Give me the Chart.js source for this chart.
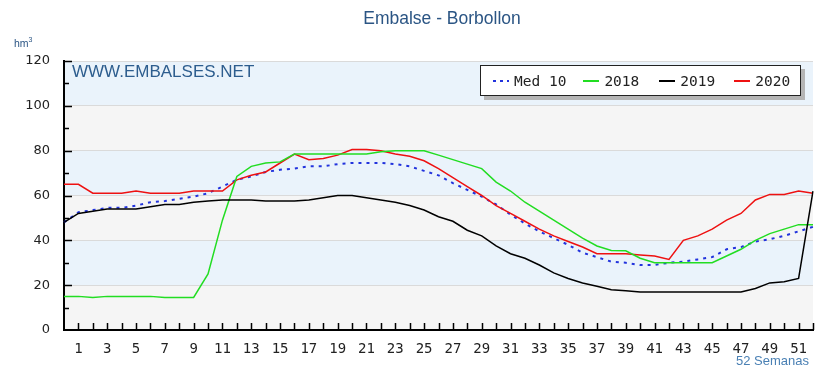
<!DOCTYPE html>
<html>
<head>
<meta charset="utf-8">
<script src="https://cdn.jsdelivr.net/npm/chart.js@4.4.1/dist/chart.umd.min.js"></script>
<style>
  body { margin: 0; background: #fff; }
  #wrap { position: relative; width: 825px; height: 379px; }
  .title { position: absolute; left: 0; width: 884px; top: 8px; text-align: center;
    font: 17.5px "Liberation Sans", Arial, sans-serif; color: #2b5584; }
  .unit { position: absolute; left: 14px; top: 36px; font: 10.5px "Liberation Sans", Arial, sans-serif; color: #2b5584; }
  .unit sup { font-size: 7px; }
  .weeks { position: absolute; left: 736px; top: 353px; font: 13px "Liberation Sans", Arial, sans-serif; color: #4a80b4; }
  .legend { position: absolute; left: 480px; top: 65px; width: 319px; height: 29px; background: #fff;
    border: 1.5px solid #222; box-shadow: 4px 4px 0 #b5b5b5; display: flex; align-items: center;
    font: 14.5px "DejaVu Sans Mono", monospace; color: #222; }
  .item { display: flex; align-items: center; margin-left: 12px; }
  .sw { width: 16px; height: 2px; margin-right: 5px; }
  .dots { width: 16px; height: 2px; margin-right: 5px;
    background: repeating-linear-gradient(90deg, #2233dd 0 3px, transparent 3px 7px); }
</style>
</head>
<body>
<div id="wrap">
  <canvas id="chart" width="825" height="379"></canvas>
  <div class="title">Embalse - Borbollon</div>
  <div class="unit">hm<sup>3</sup></div>
  <div class="weeks">52 Semanas</div>
  <div class="legend">
    <div class="item"><span class="dots"></span>Med 10</div>
    <div class="item" style="margin-left:17px"><span class="sw" style="background:#22dd22"></span>2018</div>
    <div class="item" style="margin-left:20px"><span class="sw" style="background:#000"></span>2019</div>
    <div class="item" style="margin-left:19px"><span class="sw" style="background:#ee1111"></span>2020</div>
  </div>
</div>
<script>
const weeks = ["0","1","2","3","4","5","6","7","8","9","10","11","12","13","14","15","16","17","18","19","20",
  "21","22","23","24","25","26","27","28","29","30","31","32","33","34","35","36","37","38","39","40",
  "41","42","43","44","45","46","47","48","49","50","51","52"];

const med10 = [48,52.5,53.5,54.5,54.5,55.5,57,57.5,58.5,59.5,61,64,67,68.5,70.5,71.5,72,73,73,74,74.5,
  74.5,74.5,74,73,71,69,65.5,62.5,59.5,56,51.5,47.5,44,41,38,34.5,32.5,30.5,30,29,
  29,30,30.5,31.5,32.5,36,37,39.5,40.5,42,44,46];
const y2018 = [15,15,14.5,15,15,15,15,14.5,14.5,14.5,25,49,68.5,73,74.5,75,78.5,78.5,78.5,78.5,78.5,
  78.5,79.5,80,80,80,78,76,74,72,66,62,57,53,49,45,41,37.5,35.5,35.3,32,
  30,30,30,30,30,33,36,40,43,45,47,47];
const y2019 = [48,52,53,54,54,54,55,56,56,57,57.5,58,58,58,57.5,57.5,57.5,58,59,60,60,
  59,58,57,55.5,53.5,50.5,48.5,44.5,42,37.5,34,32,29,25.5,23,21,19.5,18,17.5,17,
  17,17,17,17,17,17,17,18.5,21,21.5,23,62];
const y2020 = [65,65,61,61,61,62,61,61,61,62,62,62,67,69,70.5,74.5,78.5,76,76.5,78,80.5,
  80.5,80,78.5,77.5,75.5,72,68,64,60,55.5,52,48.5,45,42,39.5,37,34,34,34,33.5,
  33,31.5,40,42,45,49,52,58,60.5,60.5,62,61];

const yTicks = [0, 20, 40, 60, 80, 100, 120];

// alternating bands behind the plot
const bands = {
  id: "bands",
  beforeDraw(chart) {
    const { ctx, chartArea, scales } = chart;
    const y = scales.y;
    for (let i = 0; i < yTicks.length - 1; i++) {
      const top = y.getPixelForValue(yTicks[i + 1]);
      const bot = y.getPixelForValue(yTicks[i]);
      ctx.fillStyle = i % 2 === 0 ? "#f5f5f5" : "#eaf3fb";
      ctx.fillRect(chartArea.left, top, chartArea.right - chartArea.left, bot - top);
    }
    ctx.save();
    ctx.fillStyle = "#2d5d8e";
    ctx.font = "17px 'Liberation Sans', Arial, sans-serif";
    ctx.textBaseline = "top";
    ctx.fillText("WWW.EMBALSES.NET", chartArea.left + 8, chartArea.top + 3);
    ctx.restore();
  }
};

// tick marks pointing into the plot
const innerTicks = {
  id: "innerTicks",
  afterDraw(chart) {
    const { ctx, chartArea, scales } = chart;
    ctx.save();
    ctx.strokeStyle = "#000";
    ctx.lineWidth = 1.5;
    ctx.beginPath();
    for (let i = 1; i < weeks.length; i++) {
      const px = Math.round(scales.x.getPixelForValue(i)) + 0.5;
      ctx.moveTo(px, chartArea.bottom);
      ctx.lineTo(px, chartArea.bottom - 7);
    }
    for (let v = 10; v <= 120; v += 10) {
      const py = Math.round(scales.y.getPixelForValue(v)) + 0.5;
      ctx.moveTo(chartArea.left, py);
      ctx.lineTo(chartArea.left + (v % 20 === 0 ? 8 : 5), py);
    }
    ctx.stroke();
    ctx.restore();
  }
};

const line = (label, data, color, extra) => Object.assign({
  label, data, borderColor: color, borderWidth: 1.5, pointRadius: 0, tension: 0, fill: false
}, extra);

new Chart(document.getElementById("chart"), {
  type: "line",
  data: {
    labels: weeks,
    datasets: [
      line("2019", y2019, "#000000"),
      line("2018", y2018, "#22dd22"),
      line("2020", y2020, "#ee1111"),
      line("Med 10", med10, "#2233dd", { borderWidth: 2, borderDash: [3, 5] })
    ]
  },
  options: {
    responsive: false,
    animation: false,
    layout: { padding: { top: 61, right: 12, bottom: 0, left: 0 } },
    plugins: { legend: { display: false }, title: { display: false }, tooltip: { enabled: false } },
    scales: {
      x: {
        offset: false,
        grid: { display: false, drawTicks: false },
        border: { color: "#000", width: 2 },
        ticks: {
          autoSkip: false, maxRotation: 0, padding: 11, color: "#222",
          font: { family: "DejaVu Sans Mono", size: 14 },
          callback: (v, i) => (i % 2 === 1 ? weeks[i] : "")
        },
        afterFit: (s) => { s.height = 49; }
      },
      y: {
        min: 0, max: 120,
        grid: { color: "#dadada", lineWidth: 1, drawTicks: false },
        border: { color: "#000", width: 2 },
        ticks: { stepSize: 20, padding: 14, color: "#222", font: { family: "DejaVu Sans", size: 13 } },
        afterFit: (s) => { s.width = 64; }
      }
    }
  },
  plugins: [bands, innerTicks]
});
</script>
</body>
</html>
